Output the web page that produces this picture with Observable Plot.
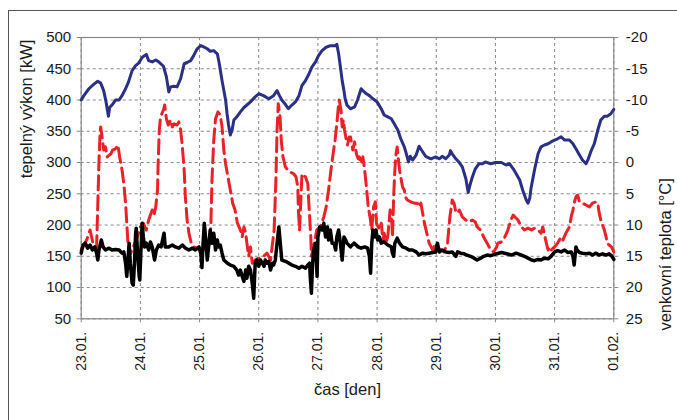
<!DOCTYPE html>
<html>
<head>
<meta charset="utf-8">
<script src="https://cdn.jsdelivr.net/npm/d3@7"></script>
<script src="https://cdn.jsdelivr.net/npm/@observablehq/plot@0.6"></script>
<style>
  html, body { margin: 0; padding: 0; background: #fff; width: 677px; height: 420px; overflow: hidden; }
  #wrap { position: relative; width: 677px; height: 420px; }
  #border { position: absolute; left: 8px; top: 10px; width: 700px; height: 440px; border-left: 1.5px solid #555; border-top: 1.5px solid #555; }
  #chart { position: absolute; left: 0; top: 0; }
</style>
</head>
<body>
<div id="wrap"><div id="border"></div><div id="chart"></div></div>
<script>
// ---- data ----
const dayLabels = ["23.01.", "24.01.", "25.01.", "26.01.", "27.01.", "28.01.", "29.01.", "30.01.", "31.01.", "01.02."];
const kwTicks = [50, 100, 150, 200, 250, 300, 350, 400, 450, 500];
const tempTicks = [25, 20, 15, 10, 5, 0, -5, -10, -15, -20];

// outdoor temperature [°C]  (day offset from 23.01., value)
const tempSeries = [
[0,-10.0],[0.045,-10.7],[0.13,-11.8],[0.21,-12.5],[0.28,-13.0],[0.33,-12.7],[0.38,-11.5],[0.42,-9.7],[0.46,-7.4],[0.48,-8.8],
[0.52,-9.2],[0.58,-10.0],[0.64,-10.0],[0.69,-10.7],[0.75,-11.8],[0.8,-12.9],[0.86,-14.7],[0.92,-15.5],[0.97,-15.9],[1.03,-16.8],
[1.07,-17.1],[1.1,-17.3],[1.14,-16.3],[1.2,-16.1],[1.26,-16.4],[1.31,-16.1],[1.39,-15.4],[1.44,-13.7],[1.48,-11.3],[1.51,-12.1],
[1.57,-12.2],[1.62,-12.1],[1.68,-13.4],[1.74,-15.8],[1.79,-16.0],[1.85,-16.3],[1.9,-17.1],[1.96,-18.2],[2.02,-18.7],[2.07,-18.5],
[2.13,-18.2],[2.18,-17.8],[2.24,-17.9],[2.3,-17.4],[2.33,-16.0],[2.38,-13.1],[2.44,-10.0],[2.465,-7.8],[2.49,-6.0],[2.52,-4.4],
[2.55,-5.2],[2.58,-6.8],[2.63,-7.3],[2.69,-8.1],[2.75,-8.8],[2.8,-9.2],[2.86,-9.7],[2.94,-10.5],[3.0,-11.0],[3.08,-10.7],
[3.17,-10.2],[3.25,-10.7],[3.31,-11.5],[3.35,-10.7],[3.39,-10.0],[3.45,-9.3],[3.5,-8.6],[3.56,-9.2],[3.62,-9.7],[3.68,-10.7],
[3.73,-12.3],[3.79,-13.1],[3.85,-14.2],[3.9,-15.3],[3.96,-16.1],[4.01,-17.1],[4.07,-17.9],[4.13,-18.4],[4.21,-18.7],[4.3,-18.7],
[4.32,-18.9],[4.35,-17.4],[4.38,-15.3],[4.41,-13.1],[4.44,-11.5],[4.46,-10.2],[4.49,-9.2],[4.55,-8.6],[4.62,-8.9],[4.67,-10.0],
[4.73,-11.8],[4.76,-11.5],[4.82,-11.0],[4.87,-10.7],[4.93,-10.2],[5.0,-9.7],[5.07,-8.6],[5.12,-7.6],[5.18,-7.3],[5.24,-7.0],
[5.29,-6.2],[5.35,-5.2],[5.4,-3.8],[5.46,-2.5],[5.5,-1.2],[5.53,-0.1],[5.56,-1.0],[5.6,-0.4],[5.66,-1.2],[5.71,-2.6],
[5.75,-2.0],[5.82,-1.0],[5.91,-0.6],[5.99,-0.9],[6.05,-0.6],[6.1,-1.0],[6.16,-0.6],[6.22,-1.2],[6.24,-1.9],[6.27,-1.4],
[6.33,-0.6],[6.38,-0.1],[6.44,0.7],[6.5,2.6],[6.54,4.8],[6.57,3.6],[6.61,2.3],[6.66,1.0],[6.72,0.2],[6.78,0.2],
[6.83,-0.1],[6.92,0.2],[7.0,0.0],[7.1,0.0],[7.18,0.4],[7.24,0.2],[7.3,1.0],[7.35,1.8],[7.41,2.8],[7.46,4.4],
[7.52,6.0],[7.55,6.5],[7.58,5.7],[7.6,4.2],[7.66,1.2],[7.72,-1.4],[7.77,-2.5],[7.83,-2.8],[7.89,-3.0],[7.94,-3.3],
[8.0,-3.6],[8.05,-3.8],[8.11,-4.1],[8.17,-3.6],[8.25,-3.6],[8.31,-3.0],[8.36,-2.2],[8.42,-1.2],[8.47,-0.4],[8.53,0.2],
[8.57,-0.6],[8.61,-1.7],[8.67,-3.0],[8.73,-5.2],[8.78,-6.8],[8.84,-7.4],[8.89,-7.4],[8.95,-7.8],[9.0,-8.5]
];

// heat output, dashed red [kW]
const redSeries = [
[0,160],[0.05,168],[0.1,178],[0.15,192],[0.2,170],[0.26,163],[0.3,300],[0.32,350],[0.33,357],[0.36,336],
[0.38,320],[0.41,325],[0.44,309],[0.5,314],[0.53,320],[0.58,322],[0.62,328],[0.65,309],[0.69,288],[0.72,266],
[0.75,235],[0.77,203],[0.79,171],[0.81,150],[0.88,165],[0.95,181],[1.0,197],[1.05,203],[1.1,192],[1.14,208],
[1.17,216],[1.2,224],[1.23,216],[1.26,229],[1.29,256],[1.3,298],[1.32,352],[1.34,373],[1.39,384],[1.41,392],
[1.44,370],[1.47,360],[1.51,368],[1.54,357],[1.57,362],[1.62,360],[1.65,365],[1.68,352],[1.71,325],[1.74,288],
[1.76,245],[1.79,208],[1.82,187],[1.86,171],[1.9,165],[1.96,163],[2.05,160],[2.15,165],[2.19,195],[2.21,272],
[2.24,336],[2.27,370],[2.31,381],[2.35,376],[2.38,357],[2.41,320],[2.44,298],[2.48,277],[2.52,256],[2.56,235],
[2.6,224],[2.64,203],[2.69,192],[2.72,181],[2.75,197],[2.78,187],[2.8,171],[2.83,150],[2.86,165],[2.89,139],
[2.95,145],[3.08,150],[3.14,155],[3.2,144],[3.26,192],[3.29,272],[3.31,352],[3.33,394],[3.36,373],[3.38,336],
[3.41,309],[3.45,293],[3.49,288],[3.53,285],[3.59,282],[3.63,277],[3.66,261],[3.67,224],[3.69,192],[3.73,282],
[3.79,277],[3.83,266],[3.85,229],[3.88,181],[3.89,150],[3.94,171],[3.98,192],[4.04,197],[4.1,213],[4.14,229],
[4.18,256],[4.22,288],[4.25,309],[4.29,336],[4.32,362],[4.35,394],[4.36,400],[4.39,384],[4.41,357],[4.43,368],
[4.45,352],[4.48,336],[4.5,328],[4.53,341],[4.55,341],[4.59,320],[4.62,333],[4.65,314],[4.68,306],[4.7,309],
[4.73,298],[4.76,309],[4.79,288],[4.82,261],[4.85,229],[4.88,213],[4.91,192],[4.94,229],[4.97,237],[4.99,203],
[5.04,192],[5.07,203],[5.1,176],[5.12,187],[5.15,171],[5.18,181],[5.21,213],[5.22,224],[5.25,203],[5.26,181],
[5.28,245],[5.3,288],[5.32,314],[5.34,325],[5.36,304],[5.38,288],[5.4,277],[5.43,261],[5.46,256],[5.48,245],
[5.51,240],[5.57,237],[5.63,235],[5.68,235],[5.71,229],[5.74,235],[5.77,219],[5.8,203],[5.84,187],[5.88,171],
[5.94,160],[5.99,171],[6.03,163],[6.08,160],[6.13,157],[6.19,171],[6.23,213],[6.27,240],[6.3,235],[6.33,221],
[6.36,219],[6.39,224],[6.44,213],[6.5,208],[6.55,205],[6.61,208],[6.66,205],[6.69,197],[6.75,192],[6.8,181],
[6.86,171],[6.92,160],[6.97,157],[7.02,165],[7.04,171],[7.1,173],[7.16,181],[7.21,192],[7.26,208],[7.3,216],
[7.33,213],[7.38,208],[7.44,197],[7.49,192],[7.55,195],[7.61,192],[7.66,195],[7.72,192],[7.77,187],[7.8,197],
[7.83,184],[7.86,171],[7.89,160],[7.91,165],[7.94,160],[8.0,165],[8.05,171],[8.11,181],[8.14,176],[8.19,187],
[8.25,197],[8.28,213],[8.31,224],[8.33,235],[8.36,245],[8.39,248],[8.42,237],[8.47,235],[8.53,232],[8.59,229],
[8.64,235],[8.7,237],[8.73,235],[8.75,221],[8.78,208],[8.84,192],[8.87,181],[8.89,171],[8.92,168],[8.96,165],
[9.0,157]
];

// heat output, solid black [kW]
const blackSeries = [
[0,155],[0.03,168],[0.07,171],[0.11,163],[0.15,168],[0.19,160],[0.23,165],[0.26,155],[0.28,144],[0.3,160],
[0.34,176],[0.37,165],[0.41,160],[0.47,163],[0.52,160],[0.58,161],[0.64,160],[0.69,155],[0.72,157],[0.75,139],
[0.77,118],[0.79,144],[0.81,171],[0.83,139],[0.86,107],[0.88,104],[0.9,139],[0.92,187],[0.93,195],[0.95,160],
[0.98,118],[0.99,112],[1.01,160],[1.03,203],[1.05,181],[1.07,165],[1.1,171],[1.14,160],[1.17,173],[1.2,165],
[1.24,144],[1.27,160],[1.31,168],[1.35,165],[1.4,187],[1.42,165],[1.48,165],[1.54,168],[1.59,165],[1.65,163],
[1.71,168],[1.76,163],[1.82,160],[1.88,163],[1.93,160],[1.99,165],[2.02,155],[2.04,132],[2.06,171],[2.08,203],
[2.11,171],[2.13,144],[2.16,171],[2.18,192],[2.21,171],[2.24,187],[2.27,160],[2.3,176],[2.32,165],[2.35,168],
[2.38,155],[2.41,144],[2.47,139],[2.52,136],[2.58,134],[2.63,128],[2.66,120],[2.69,128],[2.72,118],[2.75,110],
[2.78,128],[2.8,115],[2.83,134],[2.86,128],[2.89,107],[2.915,83],[2.94,139],[2.97,144],[3.0,134],[3.03,144],
[3.06,139],[3.09,134],[3.11,144],[3.14,139],[3.17,142],[3.2,128],[3.23,139],[3.25,136],[3.28,144],[3.31,171],
[3.34,197],[3.37,165],[3.39,144],[3.45,142],[3.51,139],[3.56,136],[3.62,134],[3.68,131],[3.73,134],[3.79,131],
[3.83,136],[3.86,139],[3.87,118],[3.89,91],[3.91,139],[3.93,160],[3.96,171],[3.975,139],[3.986,118],[4.0,181],
[4.03,197],[4.07,192],[4.1,203],[4.13,181],[4.16,197],[4.18,176],[4.21,192],[4.24,171],[4.27,171],[4.3,160],
[4.32,181],[4.35,192],[4.38,171],[4.41,144],[4.44,181],[4.47,176],[4.49,171],[4.55,165],[4.61,171],[4.68,165],
[4.73,163],[4.79,165],[4.84,163],[4.87,150],[4.89,123],[4.91,171],[4.93,192],[4.96,181],[4.98,192],[5.01,176],
[5.04,181],[5.07,171],[5.12,173],[5.18,168],[5.24,165],[5.26,155],[5.28,150],[5.3,171],[5.34,179],[5.38,171],
[5.43,165],[5.49,163],[5.54,160],[5.6,160],[5.66,157],[5.71,152],[5.77,155],[5.82,154],[5.88,155],[5.94,156],
[5.99,157],[6.02,171],[6.05,157],[6.1,160],[6.16,157],[6.22,156],[6.27,157],[6.33,150],[6.36,157],[6.41,155],
[6.47,154],[6.52,152],[6.58,150],[6.64,147],[6.69,144],[6.75,147],[6.8,150],[6.86,152],[6.92,151],[7.02,154],
[7.1,156],[7.19,154],[7.27,152],[7.35,155],[7.44,152],[7.49,150],[7.55,147],[7.61,144],[7.66,143],[7.72,145],
[7.77,144],[7.83,147],[7.89,146],[7.94,150],[8.0,157],[8.05,159],[8.11,157],[8.17,160],[8.22,156],[8.28,157],
[8.31,150],[8.33,136],[8.36,165],[8.38,160],[8.42,156],[8.47,155],[8.53,154],[8.59,155],[8.64,152],[8.7,155],
[8.75,152],[8.81,154],[8.87,152],[8.92,154],[8.96,151],[9.0,145]
];

const yTitle = "tepelný výkon [kW]";
const y2Title = "venkovní teplota [°C]";
const xTitle = "čas [den]";

// ---- chart ----
const dayTicks = dayLabels.map((_, i) => i);
const tempToKw = t => 300 - 10 * t;   // right axis: -20 °C ↔ 500 kW, 25 °C ↔ 50 kW
const font = "'Liberation Sans', Arial, Helvetica, sans-serif";

const chart = Plot.plot({
  width: 677,
  height: 420,
  marginLeft: 80.7,
  marginRight: 63.7,
  marginTop: 37,
  marginBottom: 101.7,
  style: { fontFamily: font, fontSize: "14px", color: "#1a1a1a", background: "transparent", overflow: "visible" },
  x: { domain: [0, 9] },
  y: { domain: [50, 500] },
  marks: [
    Plot.gridX(dayTicks, { stroke: "#888", strokeOpacity: 1, strokeDasharray: "3,3" }),
    Plot.gridY(kwTicks, { stroke: "#888", strokeOpacity: 1, strokeDasharray: "3,3" }),
    Plot.frame({ stroke: "#888", strokeWidth: 1.2 }),
    Plot.axisY(kwTicks, { anchor: "left", tickSize: 4, tickPadding: 6, label: null, stroke: "#888", fill: "#1a1a1a", fontSize: 15 }),
    Plot.axisY(tempTicks.map(tempToKw), { anchor: "right", tickSize: 4, tickPadding: 8, label: null, stroke: "#888", fill: "#1a1a1a", fontSize: 15,
      tickFormat: (v) => String(tempTicks[tempTicks.map(tempToKw).indexOf(v)]) }),
    Plot.axisX(dayTicks, { anchor: "bottom", tickSize: 4, tickPadding: 9, tickRotate: -90, label: null, stroke: "#888", fill: "#1a1a1a",
      tickFormat: (d) => dayLabels[d] }),
    Plot.line(tempSeries, { x: d => d[0], y: d => tempToKw(d[1]), stroke: "#2b2f86", strokeWidth: 3, strokeLinejoin: "round" }),
    Plot.line(redSeries, { x: d => d[0], y: d => d[1], stroke: "#ec2027", strokeWidth: 3, strokeDasharray: "14,6" }),
    Plot.line(blackSeries, { x: d => d[0], y: d => d[1], stroke: "#000", strokeWidth: 3.5, strokeLinejoin: "round" }),
    Plot.text([yTitle], { text: d => d, frameAnchor: "left", dx: -54.5, rotate: -90, fontSize: 16.5, fill: "#1a1a1a" }),
    Plot.text([y2Title], { text: d => d, frameAnchor: "right", dx: 51.5, rotate: -90, fontSize: 16.5, fill: "#1a1a1a" }),
    Plot.text([xTitle], { text: d => d, frameAnchor: "bottom", dy: 76, fontSize: 16.5, fill: "#1a1a1a" })
  ]
});
document.getElementById("chart").appendChild(chart);
</script>
</body>
</html>
